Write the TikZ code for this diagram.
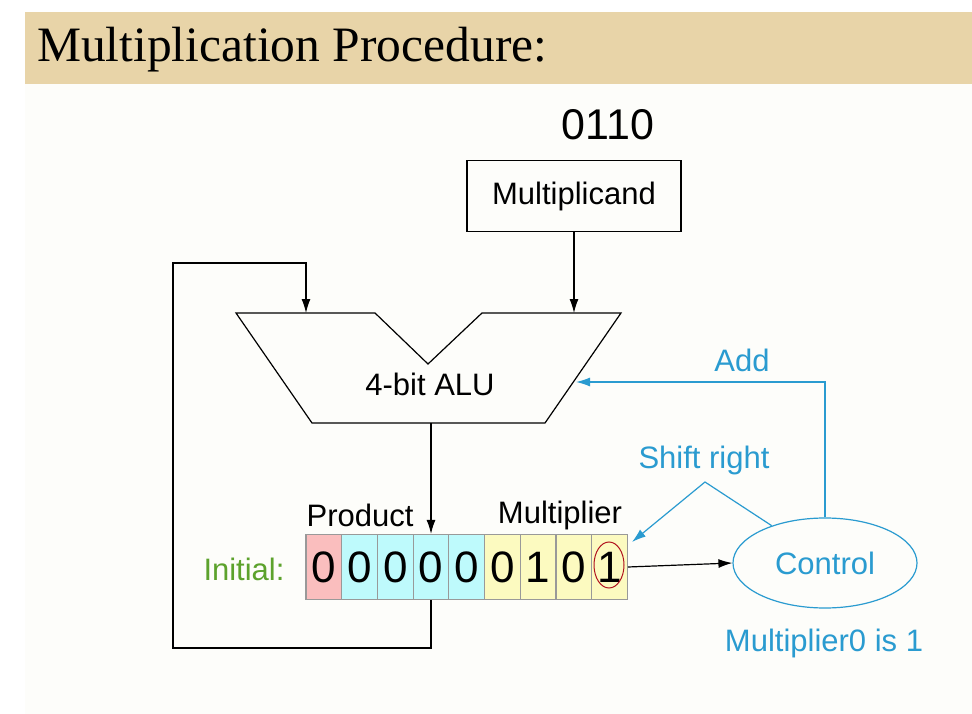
\documentclass[tikz,border=0pt]{standalone}
\usepackage{fontspec}
\setmainfont{Liberation Serif}
\setsansfont{Liberation Sans}
\usetikzlibrary{arrows.meta,shapes.geometric}
\definecolor{band}{RGB}{232,212,168}
\definecolor{paper}{RGB}{253,253,250}
\definecolor{ctrlblue}{RGB}{42,155,208}
\definecolor{initgreen}{RGB}{92,162,44}
\definecolor{pinkcell}{RGB}{250,190,190}
\definecolor{cyancell}{RGB}{190,250,252}
\definecolor{yelcell}{RGB}{252,250,192}
\definecolor{ringred}{RGB}{176,18,30}

\begin{document}
\begin{tikzpicture}[x=1pt,y=-1pt,font=\sffamily\fontsize{31}{31}\selectfont,
  cell/.style={rectangle, draw=gray!80, line width=1.2pt, minimum width=35.7pt, minimum height=65pt, inner sep=0pt, font=\sffamily\fontsize{44}{44}\selectfont},
  arr/.style={line width=1.2pt, -{Latex[length=14pt,width=9pt]}},
  barr/.style={line width=1.2pt, draw=ctrlblue, -{Latex[length=14pt,width=9pt]}},
  blab/.style={text=ctrlblue, inner sep=0pt}]
\useasboundingbox (0,0) rectangle (972,714);
% Background
\fill[white] (0,0) rectangle (972,714);
\fill[paper] (25,84) rectangle (972,714);
\fill[band] (25,12) rectangle (972,84);
\node[anchor=base west, inner sep=0pt, font=\rmfamily\fontsize{49.5}{49.5}\selectfont] (title) at (37,62) {Multiplication Procedure:};

% Points
\node[inner sep=0pt, font=\sffamily\fontsize{43}{43}\selectfont] (mval) at (608,125) {0110};
\node[rectangle, draw, line width=1.2pt, minimum width=214pt, minimum height=71pt] (mcand) at (574,196) {Multiplicand};
\coordinate (a1) at (236,313);
\coordinate (a2) at (375,313);
\coordinate (a3) at (428,364);
\coordinate (a4) at (482,313);
\coordinate (a5) at (621,313);
\coordinate (a6) at (545,423);
\coordinate (a7) at (312,423);
\node[inner sep=0pt] (alu) at (430,384) {4-bit ALU};
\coordinate (ain1) at (306,313);
\coordinate (ain2) at (574,313);
\coordinate (aout) at (431,423);
\coordinate (aadd) at (576,382);
\coordinate (lb) at (173,648);
\coordinate (lt) at (173,263);

\node[cell, fill=pinkcell] (c1) at (323.9,567) {0};
\node[cell, fill=cyancell] (c2) at (359.6,567) {0};
\node[cell, fill=cyancell] (c3) at (395.3,567) {0};
\node[cell, fill=cyancell] (c4) at (431.0,567) {0};
\node[cell, fill=cyancell] (c5) at (466.7,567) {0};
\node[cell, fill=yelcell] (c6) at (502.4,567) {0};
\node[cell, fill=yelcell] (c7) at (538.1,567) {1};
\node[cell, fill=yelcell] (c8) at (573.8,567) {0};
\node[cell, fill=yelcell] (c9) at (609.5,567) {1};
\node[inner sep=0pt] (prod) at (360,515) {Product};
\node[inner sep=0pt] (mplier) at (560,515) {Multiplier};
\node[inner sep=0pt, text=initgreen] (init) at (244,569) {Initial:};

\node[ellipse, draw=ctrlblue, line width=1.2pt, minimum width=184pt, minimum height=90pt, inner sep=0pt, text=ctrlblue] (ctrl) at (825,563) {Control};
\node[blab] (add) at (742,360) {Add};
\node[blab] (shift) at (704,460) {Shift right};
\node[blab] (cond) at (824,643) {Multiplier0 is 1};
\coordinate (sh) at (705,482);
\coordinate (shtip) at (632,542);

%Lines
\draw[line width=1.2pt] (a1) -- (a2) -- (a3) -- (a4) -- (a5) -- (a6) -- (a7) -- cycle;
\draw[ringred, line width=1pt] (609,565) ellipse (15 and 23);
\draw[arr] (mcand.south) -- (ain2);
\draw[arr] (c4.south) |- (lb) -- (lt) -| (ain1);
\draw[arr] (aout) -- (c4.north);
\draw[arr] (c9.east) -- (ctrl.west);
\draw[barr] (ctrl.north) |- (aadd);
\draw[barr] (ctrl.145) -- (sh) -- (shtip);
\end{tikzpicture}
\end{document}
